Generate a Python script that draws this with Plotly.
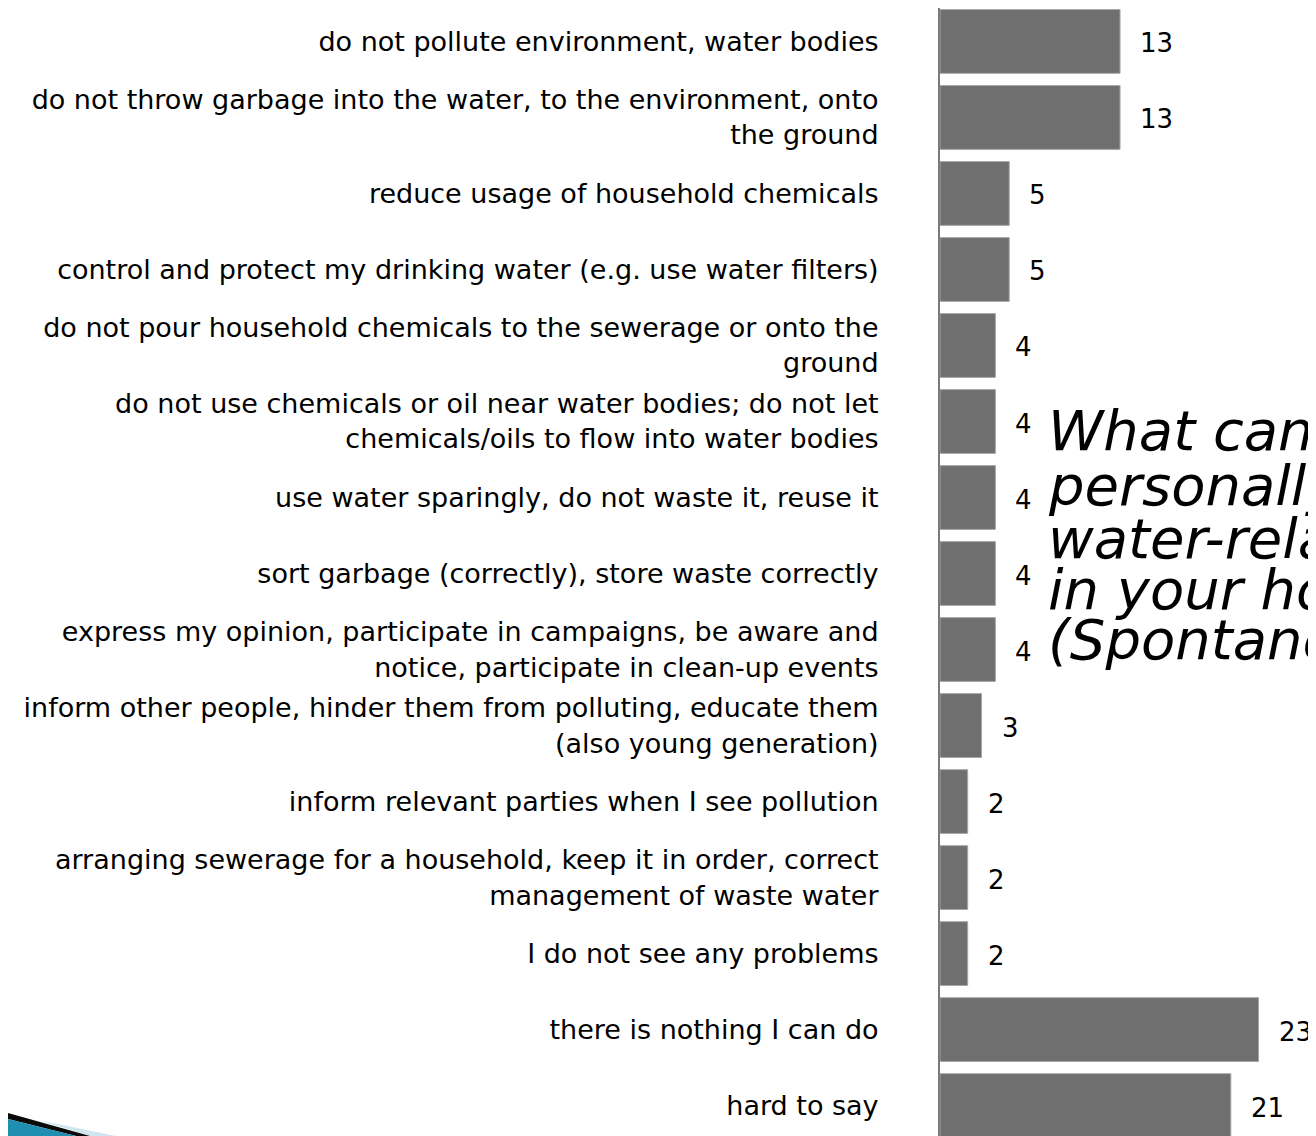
import plotly.graph_objects as go

categories = [
    "do not pollute environment, water bodies",
    "do not throw garbage into the water, to the environment, onto<br>the ground",
    "reduce usage of household chemicals",
    "control and protect my drinking water (e.g. use water filters)",
    "do not pour household chemicals to the sewerage or onto the<br>ground",
    "do not use chemicals or oil near water bodies; do not let<br>chemicals/oils to flow into water bodies",
    "use water sparingly, do not waste it, reuse it",
    "sort garbage (correctly), store waste correctly",
    "express my opinion, participate in campaigns, be aware and<br>notice, participate in clean-up events",
    "inform other people, hinder them from polluting, educate them<br>(also young generation)",
    "inform relevant parties when I see pollution",
    "arranging sewerage for a household, keep it in order, correct<br>management of waste water",
    "I do not see any problems",
    "there is nothing I can do",
    "hard to say",
]
values = [13, 13, 5, 5, 4, 4, 4, 4, 4, 3, 2, 2, 2, 23, 21]

title_lines = [
    "What can you",
    "personally do",
    "water-related",
    "in your home",
    "(Spontaneous)",
]

# page has an 8px body margin; figure is sized so it ends at the window edge
OFF = 8
W, H = 1316 - OFF, 1136 - OFF
ML, MT, MB, MR = 932, 0, 0, 0
PW, PH = W - ML - MR, H - MT - MB

def px_x(px):
    return (px - OFF - ML) / PW

def px_y(py):
    return (H - MB - (py - OFF)) / PH

fig = go.Figure()
fig.add_trace(go.Bar(
    x=values,
    y=categories,
    orientation="h",
    marker=dict(color="#6f6f6f", line=dict(color="#a8a8a8", width=1)),
    hoverinfo="x+y",
))

annotations = []
for c, v in zip(categories, values):
    annotations.append(dict(
        x=v, y=c, xref="x", yref="y", text=str(v), showarrow=False,
        xanchor="left", yanchor="middle", xshift=18, yshift=-2,
        font=dict(family="DejaVu Sans", size=26, color="#000000"),
    ))

title_y = [430, 485, 538, 589, 639]
for t, ty in zip(title_lines, title_y):
    annotations.append(dict(
        x=px_x(1046), y=px_y(ty), xref="paper", yref="paper", text=t,
        showarrow=False, xanchor="left", yanchor="middle",
        font=dict(family="DejaVu Sans", size=56, color="#000000", style="italic"),
    ))

shapes = [
    # decorative slide swoosh, bottom-left corner
    dict(type="path", xref="paper", yref="paper",
         path=f"M {px_x(38)},{px_y(1120)} L {px_x(116)},{px_y(1136)} L {px_x(90)},{px_y(1136)} Z",
         fillcolor="#cfe6ee", line=dict(width=0), layer="above"),
    dict(type="path", xref="paper", yref="paper",
         path=f"M {px_x(8)},{px_y(1113)} L {px_x(90)},{px_y(1136)} L {px_x(76)},{px_y(1136)} L {px_x(8)},{px_y(1119)} Z",
         fillcolor="#0a0a0a", line=dict(width=0), layer="above"),
    dict(type="path", xref="paper", yref="paper",
         path=f"M {px_x(8)},{px_y(1119)} L {px_x(76)},{px_y(1136)} L {px_x(8)},{px_y(1136)} Z",
         fillcolor="#1e8fb0", line=dict(width=0), layer="above"),
]

fig.update_layout(
    width=W, height=H,
    margin=dict(l=ML, r=MR, t=MT, b=MB, pad=0),
    paper_bgcolor="#ffffff", plot_bgcolor="#ffffff",
    showlegend=False,
    bargap=0.16,
    annotations=annotations,
    shapes=shapes,
    font=dict(family="DejaVu Sans", size=27, color="#000000"),
)
fig.update_xaxes(range=[0, 27.15], visible=False, fixedrange=True)
fig.update_yaxes(
    type="category", categoryorder="array", categoryarray=categories,
    range=[14.40, -0.44],
    showline=True, linecolor="#7a7a7a", linewidth=2,
    showgrid=False, zeroline=False, ticks="",
    ticklabelstandoff=54,
    tickfont=dict(family="DejaVu Sans", size=27, color="#000000"),
    fixedrange=True,
)

fig.write_html("out.html")
